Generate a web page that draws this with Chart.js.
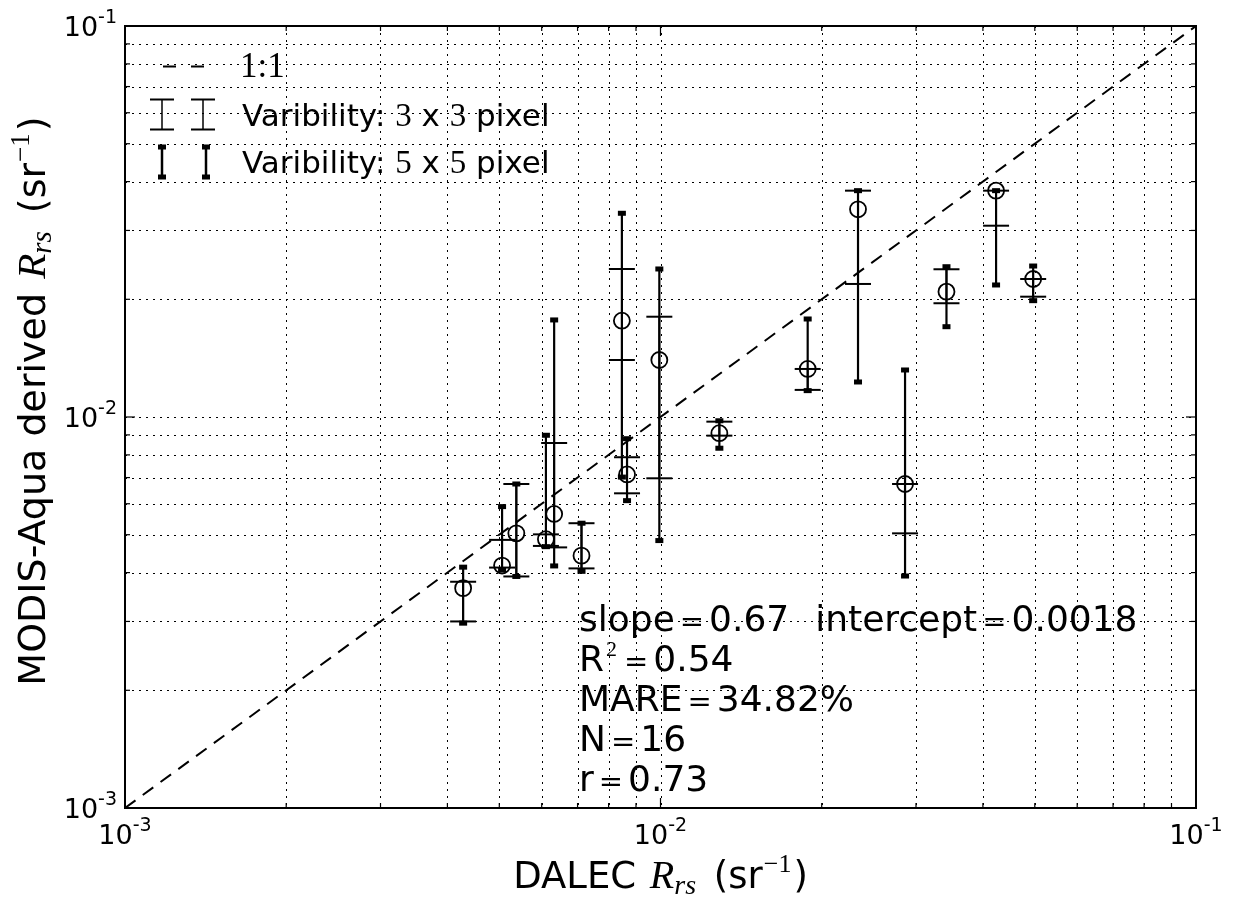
<!DOCTYPE html>
<html lang="en">
<head>
<meta charset="UTF-8">
<title>MODIS-Aqua vs DALEC Rrs</title>
<script src="https://cdn.jsdelivr.net/npm/chart.js"></script>
<style>
  body { margin: 0; background: #fff; }
  #wrap { width: 1238px; height: 897px; }
</style>
</head>
<body>
<div id="wrap"><canvas id="rrsChart" width="1238" height="897"></canvas></div>
<script>
// DALEC (in situ) and MODIS-Aqua Rrs, sr^-1
const dalecRrs = [0.00428, 0.00506, 0.00538, 0.00611, 0.00633, 0.00712, 0.00847, 0.00866,
                  0.00995, 0.01288, 0.01883, 0.02338, 0.02862, 0.0342, 0.04233, 0.04965];
const modisRrs = [0.00365, 0.00417, 0.00504, 0.00487, 0.00565, 0.00442, 0.01763, 0.00713,
                  0.01399, 0.00909, 0.01327, 0.03398, 0.00674, 0.02092, 0.03792, 0.02254];
// variability in a 3x3 pixel box
const var3Low  = [0.00300, 0.00412, 0.00391, 0.00468, 0.00464, 0.00410, 0.01399, 0.00638,
                  0.00697, 0.00896, 0.01173, 0.02189, 0.00504, 0.01954, 0.03085, 0.02031];
const var3High = [0.00379, 0.00485, 0.00674, 0.00501, 0.00858, 0.00535, 0.02391, 0.00789,
                  0.01805, 0.00973, 0.01327, 0.03792, 0.00674, 0.02387, 0.03792, 0.02254];
// variability in a 5x5 pixel box
const var5Low  = [0.00297, 0.00406, 0.00391, 0.00466, 0.00416, 0.00403, 0.00702, 0.00611,
                  0.00483, 0.00832, 0.01168, 0.01229, 0.00392, 0.01702, 0.02176, 0.01984];
const var5High = [0.00413, 0.00590, 0.00674, 0.00898, 0.01771, 0.00535, 0.03319, 0.00880,
                  0.02391, 0.00978, 0.01781, 0.03792, 0.01319, 0.02423, 0.03792, 0.02433];
const oneToOne = [0.001, 0.1];
const decadeExps = [-3, -2, -1];
const minorSteps = [2, 3, 4, 5, 6, 7, 8, 9];

const SANS = 'DejaVu Sans';
const SERIF = 'Liberation Serif';

// all grid / tick positions: 1..9 x 10^e
const gridValues = [];
decadeExps.forEach((e, i) => {
  gridValues.push(Math.pow(10, e));
  if (i < decadeExps.length - 1) minorSteps.forEach(m => gridValues.push(m * Math.pow(10, e)));
});
const isMajor = v => decadeExps.some(e => Math.abs(v - Math.pow(10, e)) < 1e-12);

// text made of runs with their own font, offset and padding
function drawRich(ctx, parts, x, y, align) {
  const wOf = p => { ctx.font = p.font; return ctx.measureText(p.t).width + (p.padL || 0) + (p.padR || 0); };
  let w = 0;
  parts.forEach(p => { w += wOf(p); });
  let cx = align === 'center' ? x - w / 2 : align === 'right' ? x - w : x;
  ctx.textAlign = 'left';
  ctx.textBaseline = 'alphabetic';
  parts.forEach(p => {
    const pw = wOf(p);
    ctx.fillText(p.t, cx + (p.padL || 0), y + (p.dy || 0));
    cx += pw;
  });
}

function line(ctx, x1, y1, x2, y2, lw) {
  ctx.lineWidth = lw;
  ctx.beginPath();
  ctx.moveTo(x1, y1);
  ctx.lineTo(x2, y2);
  ctx.stroke();
}

// 3x3 bar: plain line, wide thin caps
function thinBar(ctx, x, y1, y2, lw, capW) {
  line(ctx, x, y1, x, y2, lw);
  line(ctx, x - capW / 2, y1, x + capW / 2, y1, 2);
  line(ctx, x - capW / 2, y2, x + capW / 2, y2, 2);
}
// 5x5 bar: heavier line, short thick caps
function thickBar(ctx, x, y1, y2, lw) {
  line(ctx, x, y1, x, y2, lw);
  ctx.fillRect(x - 4, y1 - 2.5, 8, 5);
  ctx.fillRect(x - 4, y2 - 2.5, 8, 5);
}

const framePlugin = {
  id: 'frame',
  beforeDatasetsDraw(chart) {
    const { ctx, chartArea: a, scales: { x, y } } = chart;
    ctx.save();
    ctx.strokeStyle = '#000';
    ctx.setLineDash([2, 5]);
    gridValues.forEach(v => {
      const px = Math.round(x.getPixelForValue(v)) + 0.5;
      const py = Math.round(y.getPixelForValue(v)) + 0.5;
      if (px > a.left + 2 && px < a.right - 2) line(ctx, px, a.top, px, a.bottom, 1);
      if (py > a.top + 2 && py < a.bottom - 2) line(ctx, a.left, py, a.right, py, 1);
    });
    ctx.restore();
  },
  afterDatasetsDraw(chart) {
    const { ctx, chartArea: a, scales: { x, y } } = chart;
    ctx.save();
    ctx.strokeStyle = '#000';
    ctx.fillStyle = '#000';
    // error bars
    dalecRrs.forEach((d, i) => {
      const px = x.getPixelForValue(d);
      thickBar(ctx, px, y.getPixelForValue(var5Low[i]), y.getPixelForValue(var5High[i]), 2.2);
      thinBar(ctx, px, y.getPixelForValue(var3Low[i]), y.getPixelForValue(var3High[i]), 1.8, 26);
    });
    // inward ticks on all four sides
    gridValues.forEach(v => {
      const len = isMajor(v) ? 10 : 5;
      const px = x.getPixelForValue(v);
      const py = y.getPixelForValue(v);
      line(ctx, px, a.bottom, px, a.bottom - len, 1.2);
      line(ctx, px, a.top, px, a.top + len, 1.2);
      line(ctx, a.left, py, a.left + len, py, 1.2);
      line(ctx, a.right, py, a.right - len, py, 1.2);
    });
    ctx.lineWidth = 2;
    ctx.strokeRect(a.left, a.top, a.right - a.left, a.bottom - a.top);

    // tick labels
    decadeExps.forEach(e => {
      const v = Math.pow(10, e);
      const lab = [{ t: '10', font: '27px ' + SANS }, { t: '-' + Math.abs(e), font: '19px ' + SANS, dy: -13 }];
      drawRich(ctx, lab, x.getPixelForValue(v), a.bottom + 36, 'center');
      drawRich(ctx, lab, a.left - 8, y.getPixelForValue(v) + 10, 'right');
    });

    // axis titles
    const title = (pre, fs) => [
      { t: pre, font: fs + 'px ' + SANS },
      { t: 'R', font: 'italic ' + Math.round(fs * 1.08) + 'px ' + SERIF, padL: 2 },
      { t: 'rs', font: 'italic ' + Math.round(fs * 0.75) + 'px ' + SERIF, dy: 6 },
      { t: ' (sr', font: fs + 'px ' + SANS, padL: 6 },
      { t: '\u22121', font: Math.round(fs * 0.7) + 'px ' + SERIF, dy: -Math.round(fs * 0.42), padL: 1, padR: 2 },
      { t: ')', font: fs + 'px ' + SANS }
    ];
    drawRich(ctx, title('DALEC ', 37), (a.left + a.right) / 2, 888, 'center');
    ctx.save();
    ctx.translate(45, 401);
    ctx.rotate(-Math.PI / 2);
    drawRich(ctx, title('MODIS-Aqua derived ', 38), 0, 0, 'center');
    ctx.restore();

    // legend
    line(ctx, 163, 66.5, 176, 66.5, 2);
    line(ctx, 191, 66.5, 204, 66.5, 2);
    drawRich(ctx, [{ t: '1:1', font: '35px ' + SERIF }], 240, 77, 'left');
    [162, 203].forEach(lx => thinBar(ctx, lx, 99.5, 129.5, 1.5, 24));
    drawRich(ctx, [{ t: 'Varibility: ', font: '31px ' + SANS }, { t: '3', font: '33px ' + SERIF },
      { t: ' x ', font: '31px ' + SANS }, { t: '3', font: '33px ' + SERIF }, { t: ' pixel', font: '31px ' + SANS }], 242, 126, 'left');
    [162, 206].forEach(lx => thickBar(ctx, lx, 147, 177, 2.5));
    drawRich(ctx, [{ t: 'Varibility: ', font: '31px ' + SANS }, { t: '5', font: '33px ' + SERIF },
      { t: ' x ', font: '31px ' + SANS }, { t: '5', font: '33px ' + SERIF }, { t: ' pixel', font: '31px ' + SANS }], 242, 173, 'left');

    // statistics
    const sf = '36px ' + SANS;
    const eq = { t: '=', font: '29px ' + SANS, padL: 5, padR: 5 };
    const sx = 579;
    drawRich(ctx, [{ t: 'slope', font: sf }, eq, { t: '0.67', font: sf, padR: 26 }, { t: 'intercept', font: sf }, eq, { t: '0.0018', font: sf }], sx, 631, 'left');
    drawRich(ctx, [{ t: 'R', font: sf }, { t: '2', font: '22px ' + SERIF, dy: -15, padL: 2, padR: 2 }, eq, { t: '0.54', font: sf }], sx, 671, 'left');
    drawRich(ctx, [{ t: 'MARE', font: sf }, eq, { t: '34.82%', font: sf }], sx, 711, 'left');
    drawRich(ctx, [{ t: 'N', font: sf }, eq, { t: '16', font: sf }], sx, 751, 'left');
    drawRich(ctx, [{ t: 'r', font: sf }, eq, { t: '0.73', font: sf }], sx, 791, 'left');
    ctx.restore();
  }
};

new Chart(document.getElementById('rrsChart'), {
  type: 'scatter',
  data: {
    datasets: [
      {
        label: '1:1',
        type: 'line',
        data: oneToOne.map(v => ({ x: v, y: v })),
        borderColor: '#000',
        borderWidth: 2,
        borderDash: [13, 9],
        pointRadius: 0,
        fill: false
      },
      {
        label: 'Rrs',
        data: dalecRrs.map((d, i) => ({ x: d, y: modisRrs[i] })),
        pointStyle: 'circle',
        pointRadius: 8,
        pointBorderWidth: 1.8,
        pointBackgroundColor: 'rgba(0,0,0,0)',
        pointBorderColor: '#000'
      }
    ]
  },
  options: {
    responsive: false,
    animation: false,
    layout: { padding: { left: 125, top: 26, right: 42, bottom: 89 } },
    plugins: { legend: { display: false }, tooltip: { enabled: false } },
    scales: {
      x: { type: 'logarithmic', min: 0.001, max: 0.1, display: false },
      y: { type: 'logarithmic', min: 0.001, max: 0.1, display: false }
    }
  },
  plugins: [framePlugin]
});
</script>
</body>
</html>
